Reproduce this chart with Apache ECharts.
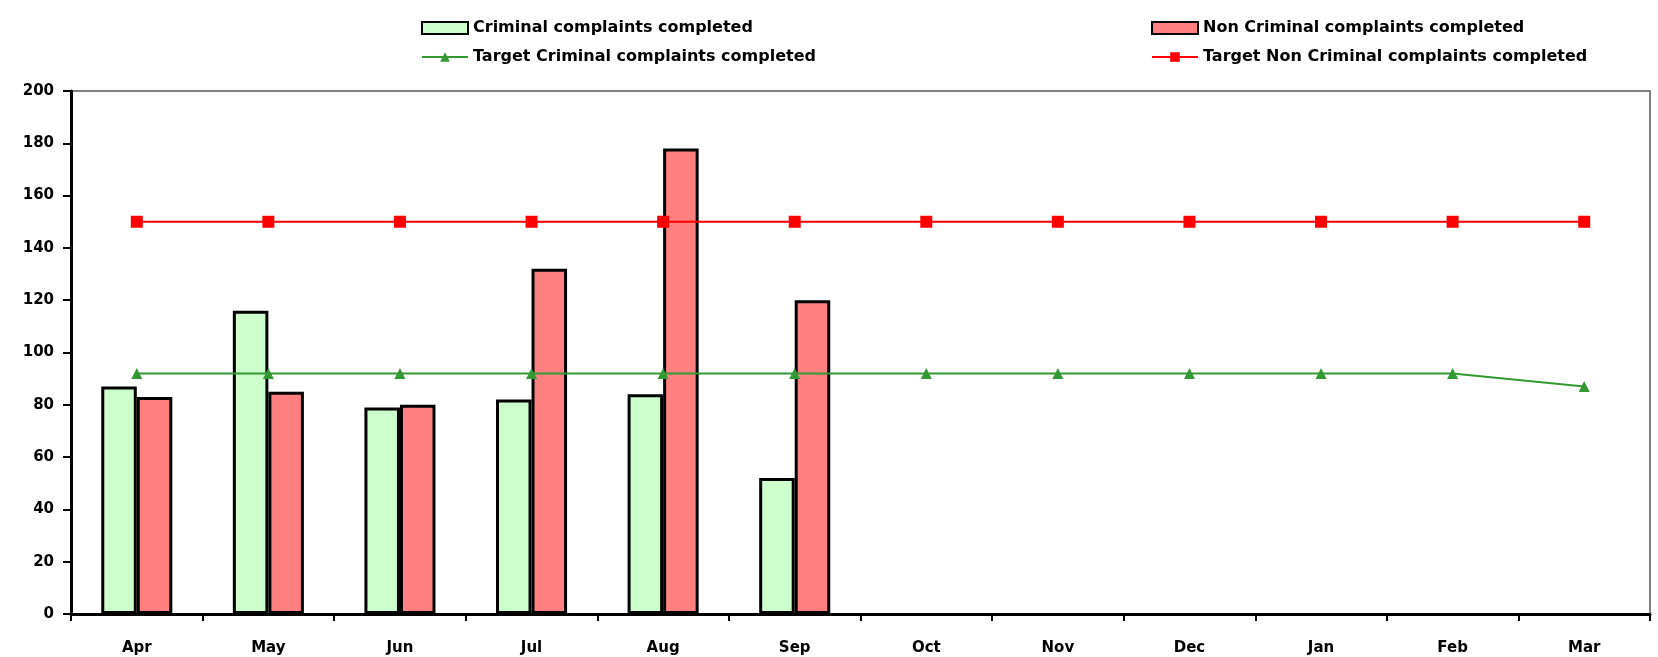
<!DOCTYPE html>
<html>
<head>
<meta charset="utf-8">
<script src="https://cdn.jsdelivr.net/npm/echarts@6/dist/echarts.min.js"></script>
<style>
  html, body { margin: 0; padding: 0; background: #fff; }
  #chart { width: 1658px; height: 657px; }
</style>
</head>
<body>
<div id="chart"></div>
<script>
// Data
const months = ["Apr", "May", "Jun", "Jul", "Aug", "Sep", "Oct", "Nov", "Dec", "Jan", "Feb", "Mar"];
const criminalDone = [87, 116, 79, 82, 84, 52, null, null, null, null, null, null];
const nonCriminalDone = [83, 85, 80, 132, 178, 120, null, null, null, null, null, null];
const targetCriminal = [92, 92, 92, 92, 92, 92, 92, 92, 92, 92, 92, 87];
const targetNonCriminal = [150, 150, 150, 150, 150, 150, 150, 150, 150, 150, 150, 150];
const yTicks = [0, 20, 40, 60, 80, 100, 120, 140, 160, 180, 200];

const font = "DejaVu Sans";

const chart = echarts.init(document.getElementById("chart"));

const legendText = { fontFamily: font, fontWeight: "bold", fontSize: 16, color: "#000" };

const option = {
  animation: false,
  backgroundColor: "#fff",
  grid: {
    left: 71, right: 8, top: 91, bottom: 43,
    show: true, borderColor: "#808080", borderWidth: 2, backgroundColor: "transparent"
  },
  legend: [
    {
      // left column
      left: 416, top: 15, orient: "vertical", itemGap: 13,
      itemWidth: 46, itemHeight: 12,
      textStyle: legendText,
      data: [
        { name: "Criminal complaints completed", icon: "rect" },
        "Target Criminal complaints completed"
      ]
    },
    {
      // right column
      left: 1146, top: 15, orient: "vertical", itemGap: 13,
      itemWidth: 46, itemHeight: 12,
      textStyle: legendText,
      data: [
        { name: "Non Criminal complaints completed", icon: "rect" },
        "Target Non Criminal complaints completed"
      ]
    }
  ],
  xAxis: {
    type: "category",
    data: months,
    boundaryGap: true,
    axisLine: { lineStyle: { color: "#000", width: 3 } },
    axisTick: { show: true, length: 7, lineStyle: { color: "#000", width: 2 } },
    axisLabel: { fontFamily: font, fontWeight: "bold", fontSize: 15, color: "#000", margin: 27 },
    splitLine: { show: false }
  },
  yAxis: {
    type: "value",
    min: yTicks[0],
    max: yTicks[yTicks.length - 1],
    interval: yTicks[1] - yTicks[0],
    axisLine: { show: true, lineStyle: { color: "#000", width: 3 } },
    axisTick: { show: true, length: 8, lineStyle: { color: "#000", width: 2 } },
    axisLabel: { fontFamily: font, fontWeight: "bold", fontSize: 15, color: "#000", margin: 17 },
    splitLine: { show: false }
  },
  series: [
    {
      name: "Criminal complaints completed",
      type: "bar",
      data: criminalDone,
      barWidth: "27%",
      barGap: "0%",
      itemStyle: { color: "#ccffcc", borderColor: "#000", borderWidth: 3 }
    },
    {
      name: "Non Criminal complaints completed",
      type: "bar",
      data: nonCriminalDone,
      barWidth: "27%",
      itemStyle: { color: "#ff8080", borderColor: "#000", borderWidth: 3 }
    },
    {
      name: "Target Criminal complaints completed",
      type: "line",
      data: targetCriminal,
      symbol: "triangle",
      symbolSize: 11,
      lineStyle: { color: "#339933", width: 2 },
      itemStyle: { color: "#339933" }
    },
    {
      name: "Target Non Criminal complaints completed",
      type: "line",
      data: targetNonCriminal,
      symbol: "rect",
      symbolSize: 12,
      lineStyle: { color: "#ff0000", width: 2 },
      itemStyle: { color: "#ff0000" }
    }
  ]
};

chart.setOption(option);
</script>
</body>
</html>
